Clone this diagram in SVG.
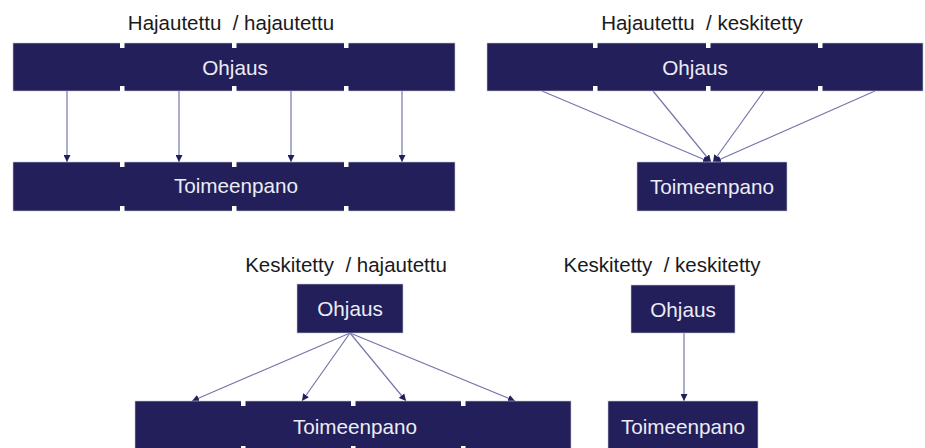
<svg xmlns="http://www.w3.org/2000/svg" width="925" height="448" viewBox="0 0 925 448">
<style>
.box{fill:#221f5a;stroke:#c8c8d0;stroke-width:0.6}
.notch{fill:#ffffff}
.lbl{font-family:"Liberation Sans",Arial,sans-serif;font-size:20.7px;fill:#ececf4;text-anchor:middle}
.ttl{font-family:"Liberation Sans",Arial,sans-serif;font-size:20.5px;fill:#1a1a1a;text-anchor:middle;white-space:pre}
.con{stroke:#7676aa;stroke-width:1.2;fill:none;marker-end:url(#ah)}
</style>
<defs>
<marker id="ah" viewBox="0 0 10 10" refX="10" refY="5" markerWidth="7" markerHeight="7" markerUnits="userSpaceOnUse" orient="auto">
<path d="M0,0 L10,5 L0,10 z" fill="#221f5a"/>
</marker>
</defs>
<g id="titles">
<text class="ttl" x="231" y="30" xml:space="preserve">Hajautettu  / hajautettu</text>
<text class="ttl" x="702" y="30" xml:space="preserve">Hajautettu  / keskitetty</text>
<text class="ttl" x="346" y="272" xml:space="preserve">Keskitetty  / hajautettu</text>
<text class="ttl" x="662" y="272" xml:space="preserve">Keskitetty  / keskitetty</text>
</g>
<g id="connectors">
<line class="con" x1="67" y1="91" x2="67" y2="162"/>
<line class="con" x1="179" y1="91" x2="179" y2="162"/>
<line class="con" x1="291" y1="91" x2="291" y2="162"/>
<line class="con" x1="402" y1="91" x2="402" y2="162"/>
<line class="con" x1="542" y1="91" x2="710" y2="162"/>
<line class="con" x1="653" y1="91" x2="711" y2="162"/>
<line class="con" x1="764" y1="91" x2="713" y2="162"/>
<line class="con" x1="875" y1="91" x2="714" y2="162"/>
<line class="con" x1="350" y1="333" x2="192" y2="401"/>
<line class="con" x1="350" y1="333" x2="302" y2="401"/>
<line class="con" x1="350" y1="333" x2="406" y2="401"/>
<line class="con" x1="350" y1="333" x2="515" y2="401"/>
<line class="con" x1="684" y1="333" x2="684" y2="401"/>
</g>
<g id="hh-ohjaus">
<rect class="box" x="13" y="43" width="442" height="48"/>
<rect class="notch" x="120" y="42" width="4.5" height="6"/><rect class="notch" x="120" y="86" width="4.5" height="6"/>
<rect class="notch" x="232" y="42" width="4.5" height="6"/><rect class="notch" x="232" y="86" width="4.5" height="6"/>
<rect class="notch" x="344" y="42" width="4.5" height="6"/><rect class="notch" x="344" y="86" width="4.5" height="6"/>
<text class="lbl" x="235" y="75">Ohjaus</text>
</g>
<g id="hh-toimeenpano">
<rect class="box" x="13" y="162" width="442" height="49"/>
<rect class="notch" x="120" y="161" width="4.5" height="6"/><rect class="notch" x="120" y="206" width="4.5" height="6"/>
<rect class="notch" x="232" y="161" width="4.5" height="6"/><rect class="notch" x="232" y="206" width="4.5" height="6"/>
<rect class="notch" x="344" y="161" width="4.5" height="6"/><rect class="notch" x="344" y="206" width="4.5" height="6"/>
<text class="lbl" x="236" y="193">Toimeenpano</text>
</g>
<g id="hk-ohjaus">
<rect class="box" x="487" y="43" width="436" height="48"/>
<rect class="notch" x="593" y="42" width="4.5" height="6"/><rect class="notch" x="593" y="86" width="4.5" height="6"/>
<rect class="notch" x="706" y="42" width="4.5" height="6"/><rect class="notch" x="706" y="86" width="4.5" height="6"/>
<rect class="notch" x="818" y="42" width="4.5" height="6"/><rect class="notch" x="818" y="86" width="4.5" height="6"/>
<text class="lbl" x="695" y="75">Ohjaus</text>
</g>
<g id="hk-toimeenpano">
<rect class="box" x="637" y="162" width="150" height="49"/>
<text class="lbl" x="712" y="194">Toimeenpano</text>
</g>
<g id="kh-ohjaus">
<rect class="box" x="297" y="284" width="106" height="49"/>
<text class="lbl" x="350" y="316">Ohjaus</text>
</g>
<g id="kh-toimeenpano">
<rect class="box" x="135" y="401" width="436" height="52"/>
<rect class="notch" x="241" y="400" width="4.5" height="6"/><rect class="notch" x="241" y="446" width="4.5" height="6"/>
<rect class="notch" x="351" y="400" width="4.5" height="6"/><rect class="notch" x="351" y="446" width="4.5" height="6"/>
<rect class="notch" x="461" y="400" width="4.5" height="6"/><rect class="notch" x="461" y="446" width="4.5" height="6"/>
<text class="lbl" x="355" y="434">Toimeenpano</text>
</g>
<g id="kk-ohjaus">
<rect class="box" x="631" y="285" width="104" height="48"/>
<text class="lbl" x="683" y="317">Ohjaus</text>
</g>
<g id="kk-toimeenpano">
<rect class="box" x="608" y="401" width="150" height="52"/>
<text class="lbl" x="683" y="434">Toimeenpano</text>
</g>
</svg>
